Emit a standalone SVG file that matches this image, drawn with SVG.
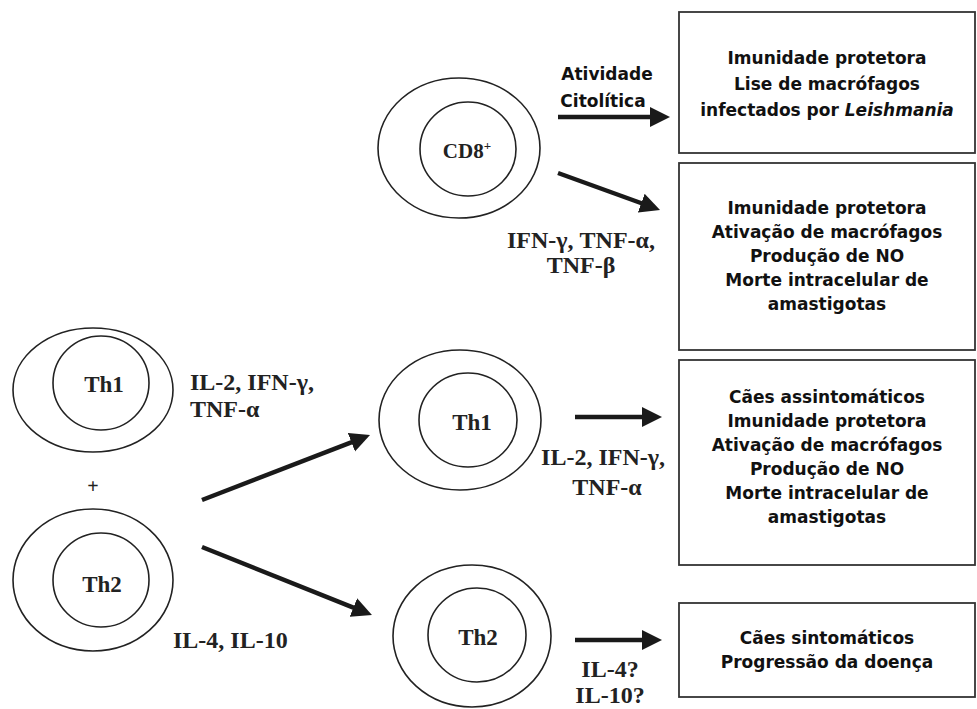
<svg xmlns="http://www.w3.org/2000/svg" width="977" height="709" viewBox="0 0 977 709">
<style>
.cell{fill:none;stroke:#222;stroke-width:1.6}
.box{fill:#fff;stroke:#333;stroke-width:1.8}
.ser{font-family:"Liberation Serif","Times New Roman",serif;font-weight:bold;fill:#222}
.sl{font-size:23px}
.lab{font-size:24px}
.san{font-family:"DejaVu Sans","Liberation Sans",sans-serif;font-weight:bold;font-size:17px;fill:#111;text-anchor:middle}
.arr{stroke:#1a1a1a;stroke-width:4.5;fill:none;marker-end:url(#ah)}
</style>
<defs>
<marker id="ah" viewBox="0 0 10 10" refX="2" refY="5" markerUnits="userSpaceOnUse" markerWidth="20" markerHeight="21" orient="auto">
<path d="M0,0 L10,5 L0,10 z" fill="#1a1a1a"/>
</marker>
</defs>
<rect width="977" height="709" fill="#fff"/>
<g id="connectors">
<line class="arr" x1="558" y1="117" x2="654" y2="117"/>
<line class="arr" x1="558" y1="173" x2="645" y2="204.5"/>
<line class="arr" x1="202" y1="500" x2="355.1" y2="440.8"/>
<line class="arr" x1="202" y1="547" x2="357.1" y2="609.1"/>
<line class="arr" x1="575" y1="417" x2="646" y2="417"/>
<line class="arr" x1="575" y1="640" x2="646" y2="640"/>
</g>
<g id="cd8">
<ellipse class="cell" cx="459" cy="148" rx="81" ry="70"/>
<ellipse class="cell" cx="468" cy="149" rx="48" ry="47"/>
<text class="ser" font-size="21" x="467" y="158" text-anchor="middle">CD8<tspan font-size="13" dy="-8">+</tspan></text>
</g>
<g id="th1-left">
<ellipse class="cell" cx="93" cy="390" rx="80" ry="62"/>
<ellipse class="cell" cx="101" cy="383" rx="48" ry="47"/>
<text class="ser sl" x="104" y="392" text-anchor="middle">Th1</text>
</g>
<g id="th2-left">
<ellipse class="cell" cx="93" cy="580" rx="80" ry="71"/>
<ellipse class="cell" cx="101" cy="580" rx="48" ry="47"/>
<text class="ser sl" x="102" y="592" text-anchor="middle">Th2</text>
</g>
<g id="th1-mid">
<ellipse class="cell" cx="460" cy="420" rx="81" ry="70"/>
<ellipse class="cell" cx="468" cy="420" rx="49" ry="47"/>
<text class="ser sl" x="472" y="430" text-anchor="middle">Th1</text>
</g>
<g id="th2-mid">
<ellipse class="cell" cx="472" cy="636" rx="79" ry="71"/>
<ellipse class="cell" cx="477" cy="635" rx="49" ry="47"/>
<text class="ser sl" x="478" y="645" text-anchor="middle">Th2</text>
</g>
<g id="labels">
<text class="san" x="607" y="80">Atividade</text>
<text class="san" x="603" y="107">Citolítica</text>
<text class="ser lab" x="581" y="248" text-anchor="middle">IFN-γ, TNF-α,</text>
<text class="ser lab" x="581" y="273" text-anchor="middle">TNF-β</text>
<text class="ser lab" x="190" y="390">IL-2, IFN-γ,</text>
<text class="ser lab" x="190" y="417">TNF-α</text>
<text class="ser" font-size="20" x="93" y="493" text-anchor="middle">+</text>
<text class="ser lab" x="173" y="648">IL-4, IL-10</text>
<text class="ser lab" x="603" y="465" text-anchor="middle">IL-2, IFN-γ,</text>
<text class="ser lab" x="607" y="495" text-anchor="middle">TNF-α</text>
<text class="ser lab" x="610" y="677" text-anchor="middle">IL-4?</text>
<text class="ser lab" x="610" y="703" text-anchor="middle">IL-10?</text>
</g>
<g id="box1">
<rect class="box" x="679" y="12" width="296" height="141"/>
<text class="san" x="827" y="64">Imunidade protetora</text>
<text class="san" x="827" y="90">Lise de macrófagos</text>
<text class="san" x="827" y="116">infectados por <tspan font-style="italic">Leishmania</tspan></text>
</g>
<g id="box2">
<rect class="box" x="679" y="163" width="296" height="187"/>
<text class="san" x="827" y="214">Imunidade protetora</text>
<text class="san" x="827" y="238">Ativação de macrófagos</text>
<text class="san" x="827" y="262">Produção de NO</text>
<text class="san" x="827" y="286">Morte intracelular de</text>
<text class="san" x="827" y="310">amastigotas</text>
</g>
<g id="box3">
<rect class="box" x="679" y="360" width="296" height="205"/>
<text class="san" x="827" y="403">Cães assintomáticos</text>
<text class="san" x="827" y="427">Imunidade protetora</text>
<text class="san" x="827" y="451">Ativação de macrófagos</text>
<text class="san" x="827" y="475">Produção de NO</text>
<text class="san" x="827" y="499">Morte intracelular de</text>
<text class="san" x="827" y="523">amastigotas</text>
</g>
<g id="box4">
<rect class="box" x="679" y="603" width="296" height="94"/>
<text class="san" x="827" y="644">Cães sintomáticos</text>
<text class="san" x="827" y="668">Progressão da doença</text>
</g>
</svg>
